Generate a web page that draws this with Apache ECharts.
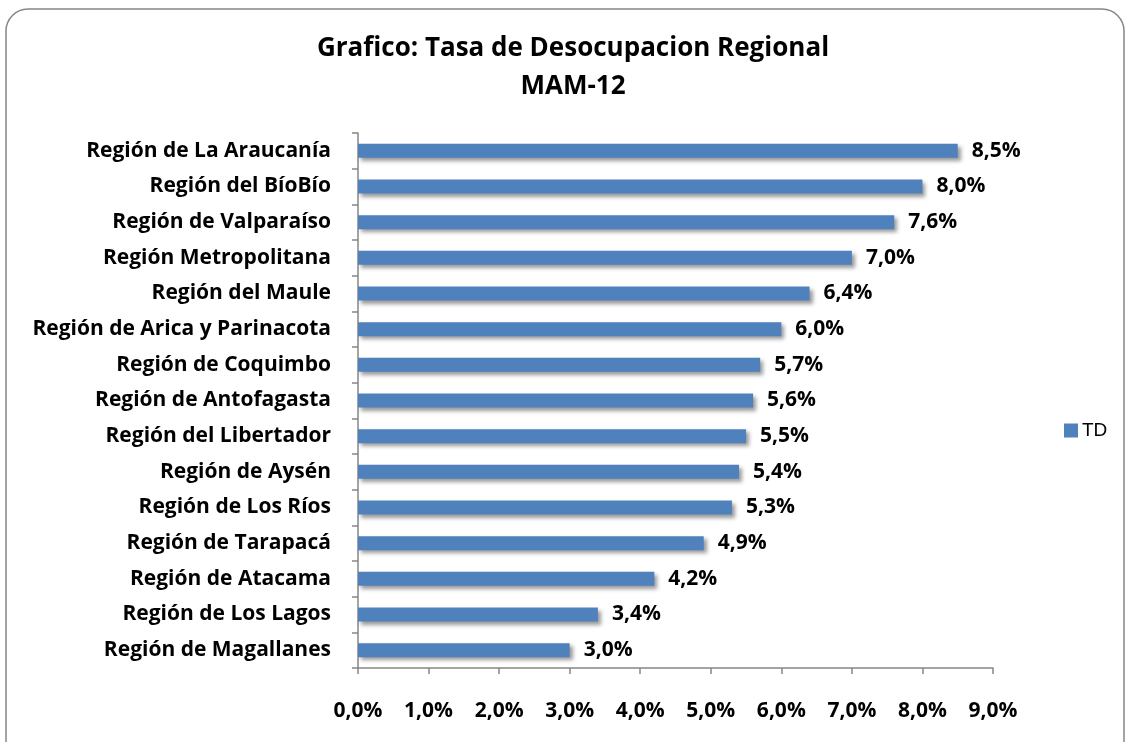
<!DOCTYPE html>
<html>
<head>
<meta charset="utf-8">
<script src="https://cdn.jsdelivr.net/npm/echarts@6/dist/echarts.min.js"></script>
<style>
html,body{margin:0;padding:0;background:#fff;}
#chart{width:1129px;height:742px;}
</style>
</head>
<body>
<div id="chart"></div>
<script>
const categories = [
  'Región de La Araucanía',
  'Región del BíoBío',
  'Región de Valparaíso',
  'Región Metropolitana',
  'Región del Maule',
  'Región de Arica y Parinacota',
  'Región de Coquimbo',
  'Región de Antofagasta',
  'Región del Libertador',
  'Región de Aysén',
  'Región de Los Ríos',
  'Región de Tarapacá',
  'Región de Atacama',
  'Región de Los Lagos',
  'Región de Magallanes'
];
const tdValues = [8.5, 8.0, 7.6, 7.0, 6.4, 6.0, 5.7, 5.6, 5.5, 5.4, 5.3, 4.9, 4.2, 3.4, 3.0];
const seriesName = 'TD';
const titleLines = ['Grafico: Tasa de Desocupacion Regional', 'MAM-12'];

const FONT = '"Open Sans", Lato, sans-serif';
const fmt = v => v.toFixed(1).replace('.', ',') + '%';

const chart = echarts.init(document.getElementById('chart'), null, {renderer: 'canvas'});
chart.setOption({
  backgroundColor: '#ffffff',
  animation: false,
  graphic: [{
    type: 'rect',
    shape: {x: 6, y: 9, width: 1118, height: 760, r: 22},
    style: {fill: 'none', stroke: '#868686', lineWidth: 1.5},
    z: -1
  }],
  title: {
    text: titleLines.join('\n'),
    left: 568,
    textAlign: 'center',
    top: 25,
    textStyle: {fontFamily: FONT, fontWeight: 'bold', fontSize: 26, color: '#000', lineHeight: 38}
  },
  legend: {
    data: [seriesName],
    orient: 'vertical',
    left: 1059,
    top: 416,
    itemWidth: 14,
    itemHeight: 14,
    itemGap: 8,
    icon: 'rect',
    textStyle: {fontFamily: '"Liberation Sans", Arial, sans-serif', fontSize: 19, color: '#000', padding: [0,0,0,-1]}
  },
  grid: {left: 358, right: 136, top: 133, bottom: 74, containLabel: false},
  xAxis: {
    type: 'value',
    min: 0, max: 9, interval: 1,
    axisLine: {show: true, lineStyle: {color: '#868686', width: 1.5}},
    axisTick: {show: true, length: 6, lineStyle: {color: '#868686', width: 1.5}},
    splitLine: {show: false},
    axisLabel: {
      margin: 33,
      formatter: v => fmt(v),
      fontFamily: FONT, fontWeight: 'bold', fontSize: 21, color: '#000'
    }
  },
  yAxis: {
    type: 'category',
    data: categories,
    inverse: true,
    axisLine: {show: true, lineStyle: {color: '#868686', width: 1.5}},
    axisTick: {show: true, length: 6, alignWithLabel: false, lineStyle: {color: '#868686', width: 1.5}},
    axisLabel: {margin: 27, fontFamily: FONT, fontWeight: 'bold', fontSize: 21, color: '#000'}
  },
  series: [{
    name: seriesName,
    type: 'bar',
    data: tdValues,
    barWidth: 14,
    itemStyle: {
      color: '#4F81BD',
      shadowColor: 'rgba(0,0,0,0.4)',
      shadowBlur: 4,
      shadowOffsetX: 3,
      shadowOffsetY: 3
    },
    label: {
      show: true,
      position: 'right',
      distance: 14,
      formatter: p => fmt(p.value),
      fontFamily: FONT, fontWeight: 'bold', fontSize: 21, color: '#000'
    }
  }]
});
</script>
</body>
</html>
